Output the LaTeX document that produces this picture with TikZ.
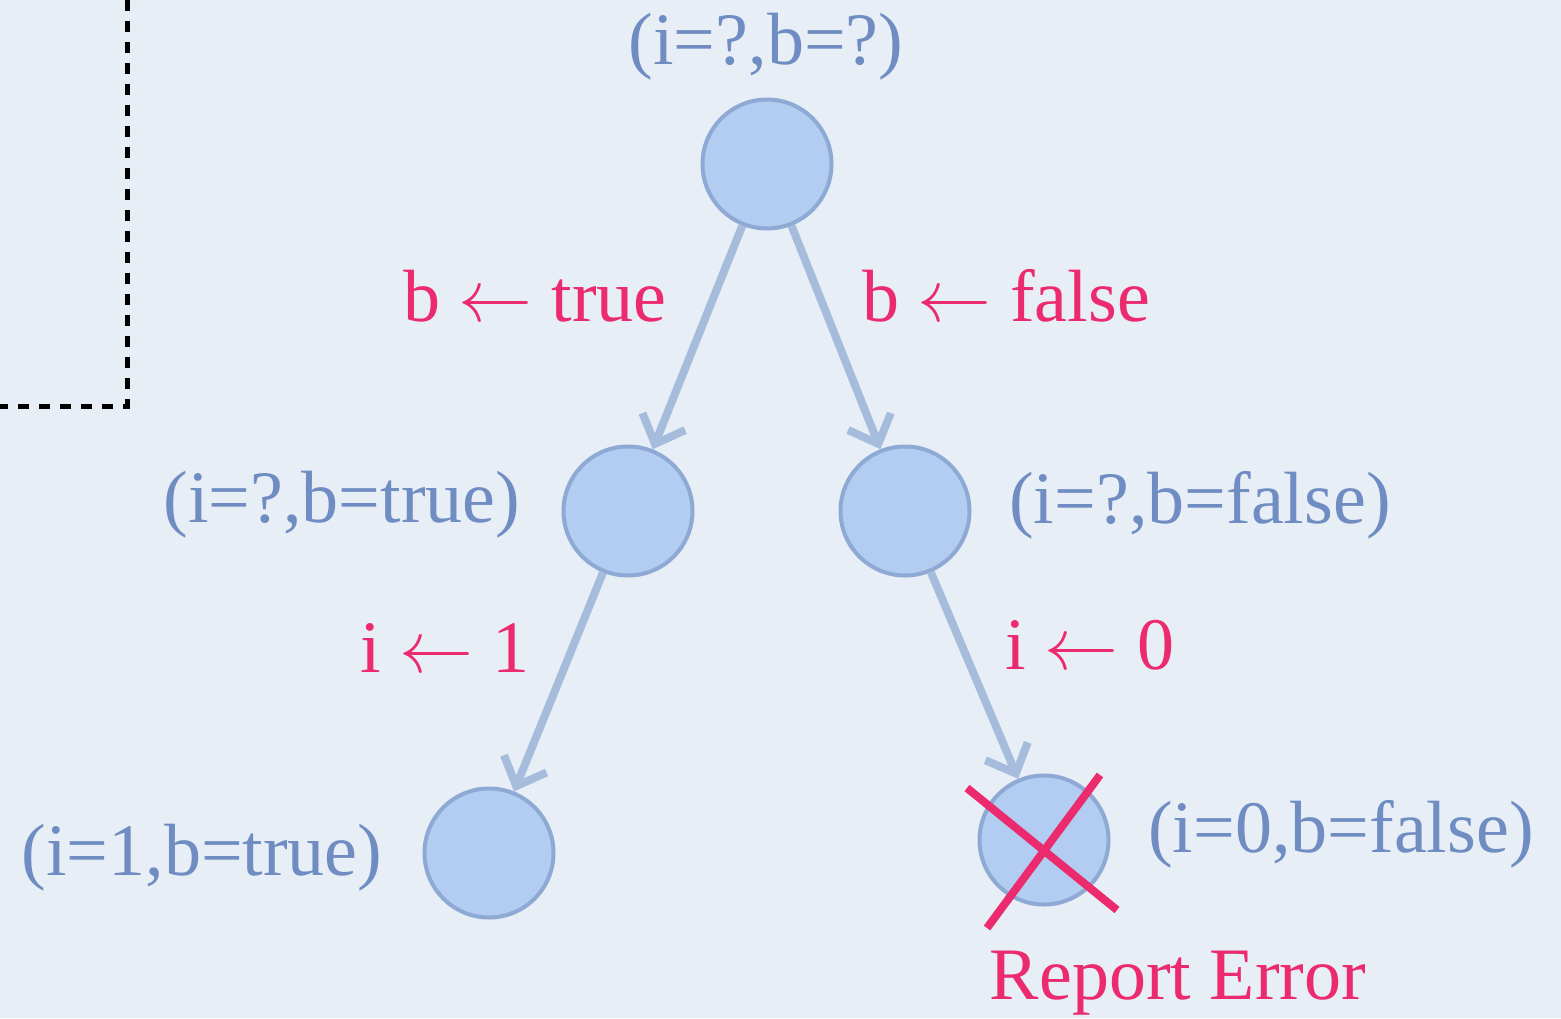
\RequirePackage{fix-cm}
\documentclass[tikz,border=0pt]{standalone}
\usepackage{fontspec}
\setmainfont{Liberation Serif}
\usetikzlibrary{arrows.meta}
\definecolor{bgcol}{HTML}{E7EEF6}
\definecolor{nodefill}{HTML}{B2CDF1}
\definecolor{nodeborder}{HTML}{8EA9D4}
\definecolor{labelblue}{HTML}{6F8DC2}
\definecolor{edgecol}{HTML}{A6BCDC}
\definecolor{pinkcol}{HTML}{EC2A6E}
\tikzset{
  statecircle/.style={circle, draw=nodeborder, fill=nodefill, line width=4pt, minimum size=129pt, inner sep=0pt},
  edgeline/.style={draw=edgecol, line width=8pt, -{Straight Barb[length=24pt,width=46pt]}},
  statelabel/.style={text=labelblue, font=\fontsize{74}{88}\selectfont, inner sep=0pt},
  actlabel/.style={text=pinkcol, font=\fontsize{74}{88}\selectfont, inner sep=0pt},
  crossline/.style={draw=pinkcol, line width=8pt},
  dashedframe/.style={draw=black, line width=5pt, dash pattern=on 11pt off 10pt}
}
\begin{document}
\begin{tikzpicture}[x=1pt,y=-1pt]
\fill[bgcol] (0,0) rectangle (1561,1018);
\useasboundingbox (0,0) rectangle (1561,1018);
% dashed frame corner
\coordinate (ftop) at (127,0);
\coordinate (fcorner) at (127,406);
\coordinate (fleft) at (0,406);
\draw[dashedframe] (ftop) -- (fcorner) -- (fleft);
% states
\node[statecircle] (r) at (767,164) {};
\node[statecircle] (l) at (628,511) {};
\node[statecircle] (m) at (905,511) {};
\node[statecircle] (bl) at (489,853) {};
\node[statecircle] (br) at (1044,840) {};
% state labels
\node[statelabel] (rlab) at (766,47) {(i=?,b=?)};
\node[statelabel] (llab) at (342,505) {(i=?,b=true)};
\node[statelabel] (mlab) at (1200,505) {(i=?,b=false)};
\node[statelabel] (bllab) at (202,858) {(i=1,b=true)};
\node[statelabel] (brlab) at (1341,834) {(i=0,b=false)};
% edges
\draw[edgeline] (r) -- (l);
\draw[edgeline] (r) -- (m);
\draw[edgeline] (l) -- (bl);
\draw[edgeline] (m) -- (br);
% action labels
\node[actlabel] (a1) at (535,296) {b $\leftarrow$ true};
\node[actlabel] (a2) at (1006,296) {b $\leftarrow$ false};
\node[actlabel] (a3) at (445,648) {i $\leftarrow$ 1};
\node[actlabel] (a4) at (1090,645) {i $\leftarrow$ 0};
\node[actlabel] (err) at (1178,983) {Report Error};
% cross
\coordinate (c1a) at (967,788);
\coordinate (c1b) at (1117,910);
\coordinate (c2a) at (1100,775);
\coordinate (c2b) at (987,928);
\draw[crossline] (c1a) -- (c1b);
\draw[crossline] (c2a) -- (c2b);
\end{tikzpicture}
\end{document}
